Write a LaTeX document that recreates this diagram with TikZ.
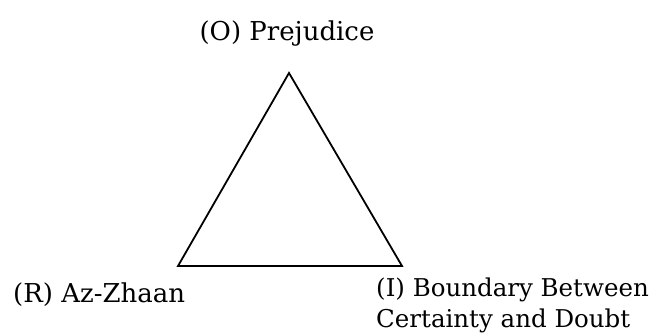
\documentclass[tikz,border=0pt]{standalone}
\usepackage{fontspec}
\setmainfont{DejaVu Serif}
\begin{document}
\begin{tikzpicture}[x=1pt,y=-1pt,
  lbl/.style={inner sep=0pt,font=\fontsize{26}{31}\selectfont},
  lbls/.style={inner sep=0pt,font=\fontsize{24.5}{31}\selectfont},
  edge/.style={draw=black,line width=1.8pt,line join=miter}]
\useasboundingbox (0,0) rectangle (660,336);
\coordinate (O) at (289,73);
\coordinate (R) at (178,266);
\coordinate (I) at (402,266);
\draw[edge] (O) -- (R) -- (I) -- cycle;
\node[lbl,anchor=base] (lo) at (287,41) {(O) Prejudice};
\node[lbl,anchor=base west] (lr) at (13,302) {(R) Az-Zhaan};
\node[lbls,anchor=base west,align=left] (li) at (376,327) {(I) Boundary Between\\Certainty and Doubt};
\end{tikzpicture}
\end{document}
